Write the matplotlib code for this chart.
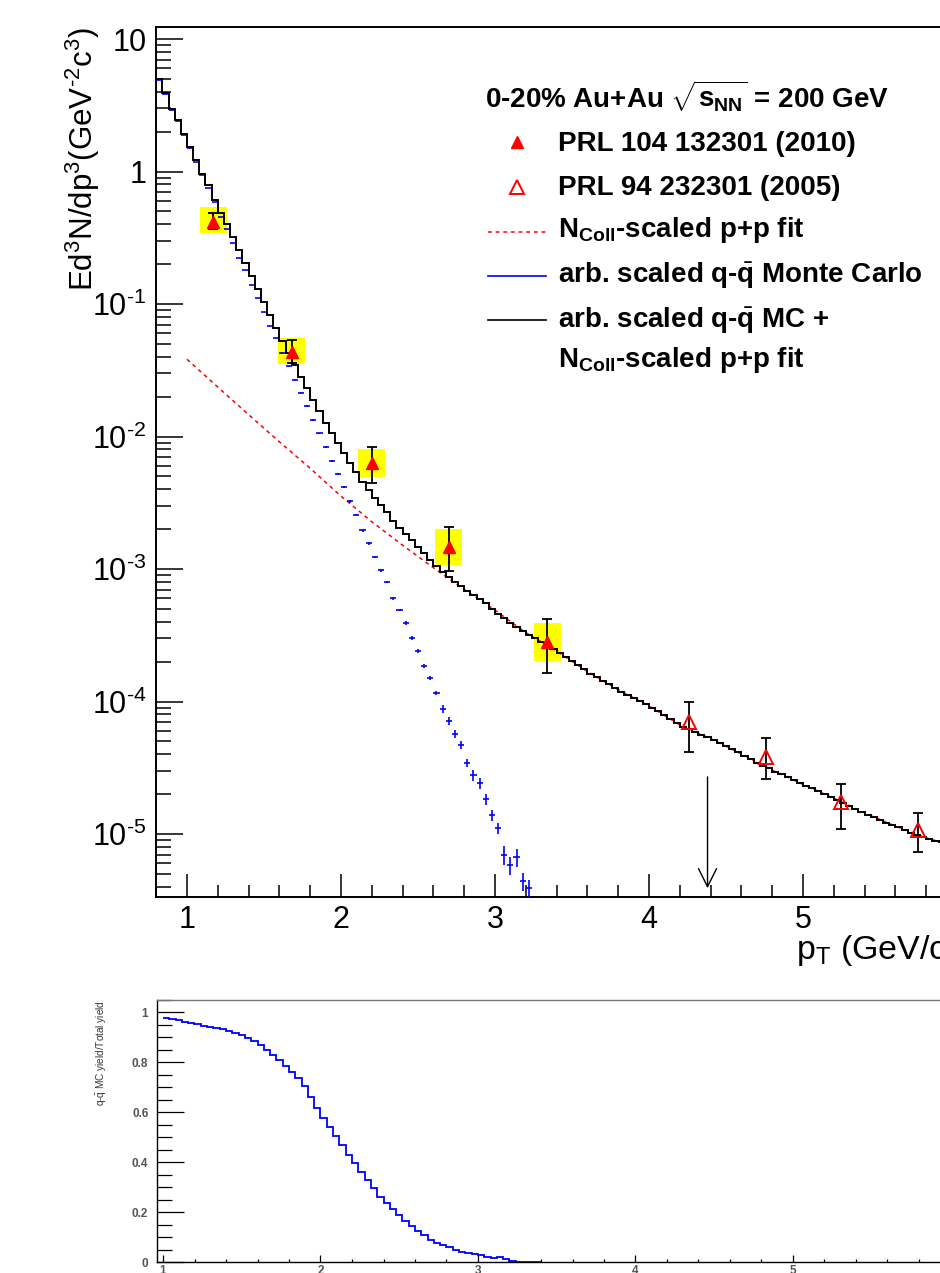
import matplotlib
matplotlib.use('Agg')
import matplotlib.pyplot as plt
import numpy as np
from matplotlib.lines import Line2D
from matplotlib.ticker import MultipleLocator, LogLocator, FuncFormatter, NullFormatter

plt.rcParams['font.family'] = ['Liberation Sans', 'DejaVu Sans']
plt.rcParams['mathtext.fontset'] = 'custom'
plt.rcParams['mathtext.rm'] = 'Liberation Sans'
plt.rcParams['mathtext.it'] = 'Liberation Sans:italic'
plt.rcParams['mathtext.bf'] = 'Liberation Sans:bold'
plt.rcParams['mathtext.sf'] = 'Liberation Sans'

W, H = 940, 1273
HY = '\u2010'  # short hyphen used in the exponents

# ---- data ----
bin_w = 0.04
hist_start = 0.80

# total yield (q-qbar MC + Ncoll scaled p+p fit), log10 per 0.04 bin from 0.80
total_log = [0.698, 0.592, 0.472, 0.389, 0.283, 0.182, 0.085, -0.015, -0.105, -0.215,
             -0.313, -0.396, -0.494, -0.592, -0.690, -0.785, -0.885, -0.985, -1.080, -1.180,
             -1.280, -1.370, -1.460, -1.548, -1.636, -1.725, -1.808, -1.895, -1.975, -2.049,
             -2.122, -2.197, -2.269, -2.343, -2.401, -2.463, -2.520, -2.570, -2.640, -2.690,
             -2.735, -2.780, -2.830, -2.880, -2.930, -2.980, -3.020, -3.060, -3.095, -3.130,
             -3.165, -3.195, -3.225, -3.260, -3.300, -3.340, -3.370, -3.405, -3.435, -3.465,
             -3.495, -3.520, -3.547, -3.574, -3.604, -3.634, -3.665, -3.696, -3.727, -3.758,
             -3.789, -3.815, -3.842, -3.870, -3.897, -3.925, -3.950, -3.973, -3.996, -4.020,
             -4.045, -4.075, -4.105, -4.133, -4.162, -4.190, -4.210, -4.230, -4.250, -4.270,
             -4.290, -4.312, -4.335, -4.357, -4.380, -4.410, -4.435, -4.460, -4.485, -4.505,
             -4.528, -4.550, -4.573, -4.595, -4.615, -4.635, -4.655, -4.675, -4.697, -4.720,
             -4.743, -4.766, -4.788, -4.810, -4.830, -4.853, -4.875, -4.894, -4.913, -4.932,
             -4.950, -4.970, -4.990, -5.008, -5.022, -5.036, -5.050, -5.063, -5.075, -5.088]

# q-qbar Monte Carlo, log10 per bin from 0.80
mc_log = [0.690, 0.585, 0.465, 0.380, 0.275, 0.177, 0.072, -0.026, -0.125, -0.230,
          -0.343, -0.434, -0.540, -0.653, -0.743, -0.857, -0.955, -1.060, -1.166, -1.257,
          -1.370, -1.470, -1.570, -1.668, -1.770, -1.875, -1.974, -2.079, -2.185, -2.283,
          -2.381, -2.487, -2.592, -2.706, -2.804, -2.909, -3.008, -3.098, -3.219, -3.309,
          -3.408, -3.521, -3.619, -3.732, -3.823, -3.936, -4.057, -4.147, -4.245, -4.328,
          -4.464, -4.555, -4.615, -4.736, -4.857, -4.955, -5.158, -5.234, -5.174, -5.355,
          -5.408]
mc_err = [0.005] * 20 + [0.01] * 10 + [0.025] * 10 + [0.04] * 6 + [0.07] * 5 + [0.10] * 5 + [0.16] * 5

# Ncoll-scaled p+p fit
fit_pt = [1.0, 1.2, 1.4, 1.6, 1.8, 2.0, 2.2, 2.4, 2.6, 2.8, 3.0, 3.2, 3.4,
          3.6, 3.8, 4.0, 4.2, 4.4, 4.6, 4.8, 5.0, 5.2, 5.4, 5.6, 5.8, 6.0]
fit_log = [-1.417, -1.627, -1.835, -2.040, -2.240, -2.450, -2.643, -2.820, -2.990, -3.154,
           -3.310, -3.480, -3.620, -3.773, -3.910, -4.033, -4.176, -4.280, -4.395, -4.517,
           -4.625, -4.730, -4.840, -4.940, -5.029, -5.095]

# PRL 104 132301 (2010)
new_pt = [1.17, 1.68, 2.20, 2.70, 3.34]
new_y = [0.416, 0.0434, 6.31e-3, 1.47e-3, 2.81e-4]
new_hi = [0.486, 0.0534, 8.34e-3, 2.07e-3, 4.2e-4]
new_lo = [0.368, 0.0359, 4.46e-3, 9.66e-4, 1.64e-4]
new_sys_hi = [0.540, 0.0553, 8.05e-3, 2.0e-3, 3.91e-4]
new_sys_lo = [0.344, 0.0352, 4.94e-3, 1.07e-3, 2.02e-4]

# PRL 94 232301 (2005)
old_pt = [4.26, 4.76, 5.25, 5.75]
old_y = [7.0e-5, 3.81e-5, 1.75e-5, 1.07e-5]
old_hi = [9.9e-5, 5.31e-5, 2.38e-5, 1.44e-5]
old_lo = [4.16e-5, 2.6e-5, 1.09e-5, 7.31e-6]

arrow_pt = 4.38
arrow_top, arrow_bottom = 2.7e-5, 3.9e-6

# ratio panel, per 0.04 bin from 1.00
ratio_start = 1.0
ratio = [0.977, 0.972, 0.968, 0.963, 0.958, 0.952, 0.947, 0.941, 0.937, 0.933,
         0.927, 0.919, 0.909, 0.897, 0.884, 0.868, 0.850, 0.829, 0.808, 0.786,
         0.762, 0.736, 0.706, 0.660, 0.618, 0.577, 0.540, 0.504, 0.468, 0.430,
         0.396, 0.360, 0.328, 0.296, 0.262, 0.236, 0.212, 0.188, 0.164, 0.144,
         0.124, 0.108, 0.090, 0.076, 0.068, 0.060, 0.048, 0.040, 0.036, 0.032,
         0.028, 0.020, 0.016, 0.020, 0.014, 0.004, 0.002, 0.002, 0.002, 0.002]


def fx(px):
    return px / W


def fy(py):
    return 1 - py / H


fig = plt.figure(figsize=(W / 100, H / 100), dpi=100)

# ---- top panel ----
ax = fig.add_axes([fx(156.2), fy(897), (957 - 156.2) / W, 870 / H])
ax.set_yscale('log')

new_y_a = np.array(new_y)
old_y_a = np.array(old_y)
sys_lo = np.array(new_sys_lo)
sys_hi = np.array(new_sys_hi)
ax.bar(new_pt, sys_hi - sys_lo, bottom=sys_lo, width=0.175, color='#ffff00', zorder=1)

ax.plot(fit_pt, 10 ** np.array(fit_log), color='red', ls=(0, (2.5, 2.5)), lw=1.1, zorder=2)

mc = 10 ** np.array(mc_log)
mc_x = hist_start + bin_w * (np.arange(len(mc)) + 0.5)
ax.errorbar(mc_x, mc, xerr=bin_w / 2, yerr=mc * np.array(mc_err), fmt='none',
            ecolor='#0000ff', elinewidth=1.2, capsize=0, zorder=3)

total = 10 ** np.array(total_log)
edges = hist_start + bin_w * np.arange(len(total) + 1)
ax.stairs(total, edges, color='black', lw=1.4, baseline=None, zorder=4)

ax.errorbar(new_pt, new_y_a, yerr=[new_y_a - np.array(new_lo), np.array(new_hi) - new_y_a],
            fmt='none', ecolor='black', elinewidth=1.3, capsize=3.3, capthick=1.3, zorder=5)
ax.errorbar(old_pt, old_y_a, yerr=[old_y_a - np.array(old_lo), np.array(old_hi) - old_y_a],
            fmt='none', ecolor='black', elinewidth=1.3, capsize=3.3, capthick=1.3, zorder=5)
ax.plot(new_pt, new_y_a, '^', color='red', ms=8.5, zorder=6)
ax.plot(old_pt, old_y_a, '^', mfc='none', mec='red', ms=10, mew=1.4, zorder=6)

ax.annotate('', xy=(arrow_pt, arrow_bottom), xytext=(arrow_pt, arrow_top),
            arrowprops=dict(arrowstyle='->,head_length=1.0,head_width=0.5', color='black',
                            lw=1.0, mutation_scale=13, shrinkA=0, shrinkB=0))

ax.set_xlim(0.8, 6.0)
ax.set_ylim(10 ** -5.475, 10 ** 1.0906)

ax.xaxis.set_major_locator(MultipleLocator(1))
ax.xaxis.set_minor_locator(MultipleLocator(0.2))
ax.xaxis.set_major_formatter(FuncFormatter(lambda v, p: f'{v:.0f}'))
ax.yaxis.set_major_locator(LogLocator(base=10, numticks=20))
ax.yaxis.set_minor_locator(LogLocator(base=10, subs=np.arange(2, 10), numticks=20))
ax.yaxis.set_minor_formatter(NullFormatter())


def ylab(v, p):
    e = int(round(np.log10(v)))
    if e == 1:
        return '10'
    if e == 0:
        return '1'
    return '10$^{' + HY + '%d}$' % abs(e)


ax.yaxis.set_major_formatter(FuncFormatter(ylab))
ax.tick_params(axis='y', which='major', direction='in', length=19.4, width=1.1, labelsize=22, pad=7)
ax.tick_params(axis='y', which='minor', direction='in', length=10.8, width=1.1)
ax.tick_params(axis='x', which='major', direction='in', length=16.6, width=1.1, labelsize=22, pad=6)
ax.tick_params(axis='x', which='minor', direction='in', length=8.6, width=1.1)
ax.tick_params(top=False, right=False, which='both')
for s in ax.spines.values():
    s.set_linewidth(1.4)

fig.text(fx(83), fy(27), r'Ed$^{3}$N/dp$^{3}$(GeV$^{' + HY + r'2}$c$^{3}$)', rotation=90,
         ha='center', va='top', fontsize=22.5)
fig.text(fx(796), fy(950), r'p$_{\mathrm{T}}$ (GeV/c)', ha='left', va='center', fontsize=24.5)

# legend
fig.text(fx(485), fy(107), r'0-20% Au+Au $\sqrt{\mathbf{s}_{\mathbf{NN}}}$ = 200 GeV',
         fontsize=20, fontweight='bold', va='baseline')
leg_labels = ['PRL 104 132301 (2010)',
              'PRL 94 232301 (2005)',
              r'$\mathbf{N}_{\mathbf{Coll}}$-scaled p+p fit',
              r'arb. scaled q-$\bar{\mathbf{q}}$ Monte Carlo',
              r'arb. scaled q-$\bar{\mathbf{q}}$ MC +',
              r'$\mathbf{N}_{\mathbf{Coll}}$-scaled p+p fit']
leg_base = [151, 195, 237, 283, 328, 367]
for lab, b in zip(leg_labels, leg_base):
    fig.text(fx(558), fy(b), lab, fontsize=20, fontweight='bold', va='baseline')
fig.add_artist(Line2D([fx(517)], [fy(142)], marker='^', color='red', ms=8.5, ls='none'))
fig.add_artist(Line2D([fx(517)], [fy(187)], marker='^', mfc='none', mec='red', ms=10, mew=1.4, ls='none'))
fig.add_artist(Line2D([fx(488), fx(546)], [fy(232)] * 2, color='red', ls=(0, (2.5, 2.5)), lw=1.1))
fig.add_artist(Line2D([fx(488), fx(546)], [fy(276)] * 2, color='#0000ff', lw=1.2))
fig.add_artist(Line2D([fx(488), fx(546)], [fy(320)] * 2, color='black', lw=1.2))

# ---- ratio panel ----
ax2 = fig.add_axes([fx(156.7), fy(1262.3), (950.5 - 156.7) / W, 262.5 / H])
r_edges = ratio_start + bin_w * np.arange(len(ratio) + 1)
ax2.stairs(ratio, r_edges, color='#0000ff', lw=1.3, baseline=None)
ax2.set_xlim(0.96, 6.0)
ax2.set_ylim(0, 1.05)
ax2.xaxis.set_major_locator(MultipleLocator(1))
ax2.xaxis.set_minor_locator(MultipleLocator(0.2))
ax2.yaxis.set_major_locator(MultipleLocator(0.2))
ax2.yaxis.set_minor_locator(MultipleLocator(0.05))
ax2.xaxis.set_major_formatter(FuncFormatter(lambda v, p: f'{v:g}'))
ax2.yaxis.set_major_formatter(FuncFormatter(lambda v, p: f'{v:.1f}'.rstrip('0').rstrip('.') if v else '0'))
ax2.tick_params(axis='y', which='major', direction='in', length=19.4, width=0.9, labelsize=8.5,
                labelcolor='#555555', pad=6)
ax2.tick_params(axis='y', which='minor', direction='in', length=10.8, width=0.9)
ax2.tick_params(axis='x', which='major', direction='in', length=5, width=0.9, labelsize=8.5,
                labelcolor='#555555', pad=2)
ax2.tick_params(axis='x', which='minor', direction='in', length=2.5, width=0.9)
ax2.tick_params(top=False, right=False, which='both')
for lab in ax2.get_xticklabels() + ax2.get_yticklabels():
    lab.set_fontweight('bold')
for s in ax2.spines.values():
    s.set_linewidth(1.0)
ax2.spines['top'].set_color('#777777')

fig.text(fx(101), fy(1000), r'q-$\bar{\mathrm{q}}$ MC yield/Total yield', rotation=90,
         ha='center', va='top', fontsize=7.2, color='#333333')

fig.savefig('out.png', dpi=100)
